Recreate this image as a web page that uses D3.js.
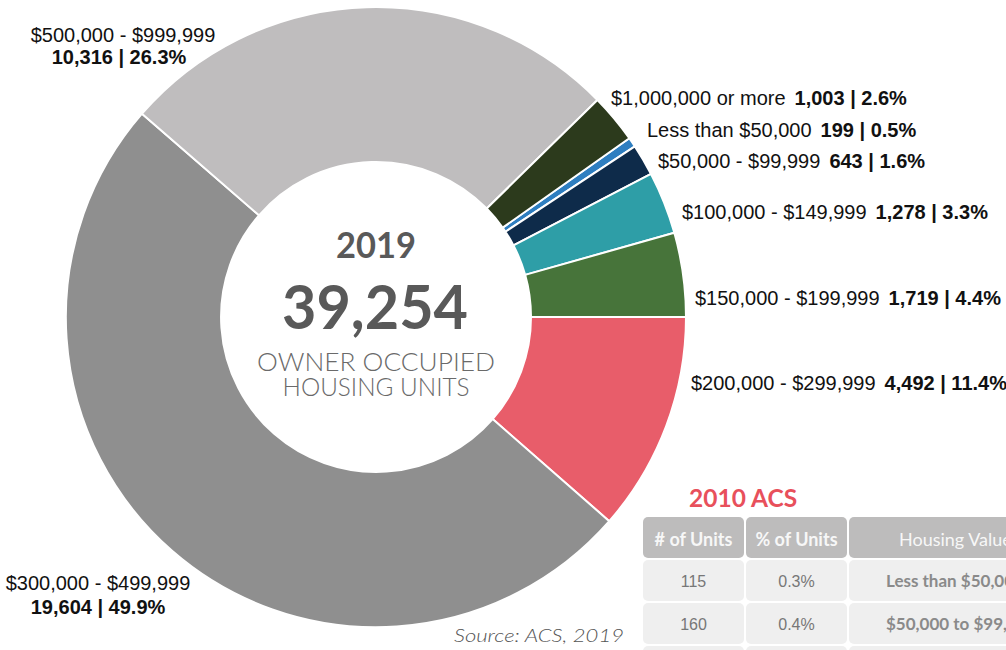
<!DOCTYPE html>
<html>
<head>
<meta charset="utf-8">
<script src="https://cdn.jsdelivr.net/npm/d3@7"></script>
<style>
  html, body { margin: 0; padding: 0; background: #ffffff; }
  svg { display: block; }
</style>
</head>
<body>
<div id="chart"></div>
<script>
// ---------- Data ----------
const categories = [
  "Less than $50,000", "$50,000 - $99,999", "$100,000 - $149,999",
  "$150,000 - $199,999", "$200,000 - $299,999", "$300,000 - $499,999",
  "$500,000 - $999,999", "$1,000,000 or more"
];
const units  = [199, 643, 1278, 1719, 4492, 19604, 10316, 1003];
const shares = [0.5, 1.6, 3.3, 4.4, 11.4, 49.9, 26.3, 2.6];
const year = "2019";
const centerLines = ["OWNER OCCUPIED", "HOUSING UNITS"];
const sourceText = "Source: ACS, 2019";

// 2010 ACS table
const tableTitle = "2010 ACS";
const tableHeaders = ["# of Units", "% of Units", "Housing Value"];
const units2010  = [115, 160];
const shares2010 = ["0.3%", "0.4%"];
const values2010 = ["Less than $50,000", "$50,000 to $99,999"];

// ---------- Styles / layout ----------
const sliceColors = ["#2E7EC0", "#0E2B4A", "#2E9EA7", "#47743A",
                     "#E85D6A", "#8F8F8F", "#BFBDBE", "#2C3A1C"];

const W = 1006, H = 650;
const cx = 376, cy = 317, R = 310, r0 = 155;

// label anchor layout (per category index)
const labelLayout = {
  0: {x: 647, y: 137, mode: "inline"},
  1: {x: 658, y: 168, mode: "inline"},
  2: {x: 682, y: 219, mode: "inline"},
  3: {x: 695, y: 305, mode: "inline"},
  4: {x: 691, y: 390, mode: "inline"},
  5: {x: 98,  y: 590, x2: 98, y2: 614, mode: "stack"},
  6: {x: 123, y: 42,  x2: 119, y2: 64, mode: "stack"},
  7: {x: 611, y: 105, mode: "inline"}
};

const data = categories.map((c, i) => ({cat: c, units: units[i], share: shares[i], i}));
const total = d3.sum(units);
const fmt = d3.format(",");

const svg = d3.select("#chart").append("svg")
  .attr("width", W).attr("height", H)
  .attr("viewBox", `0 0 ${W} ${H}`);

const color = d3.scaleOrdinal().domain(categories).range(sliceColors);

// start so that the $200k slice begins at 3 o'clock
const before = d3.sum(units.slice(0, 4));
const start = Math.PI / 2 - 2 * Math.PI * before / total;

const pie = d3.pie().sort(null).value(d => d.units)
  .startAngle(start).endAngle(start + 2 * Math.PI);
const arc = d3.arc().innerRadius(r0).outerRadius(R);

const g = svg.append("g").attr("transform", `translate(${cx},${cy})`);
g.selectAll("path.slice")
  .data(pie(data))
  .join("path")
  .attr("class", "slice")
  .attr("d", arc)
  .attr("fill", d => color(d.data.cat))
  .attr("stroke", "#ffffff")
  .attr("stroke-width", 2)
  .attr("stroke-linejoin", "round");

// ---------- Slice labels ----------
const labelFont = "'Liberation Sans', Arial, Helvetica, sans-serif";
const lg = svg.append("g").attr("font-family", labelFont).attr("font-size", 20).attr("fill", "#111");
data.forEach(d => {
  const L = labelLayout[d.i];
  const valueStr = `${fmt(d.units)} | ${d.share}%`;
  if (L.mode === "inline") {
    const t = lg.append("text").attr("x", L.x).attr("y", L.y);
    t.append("tspan").text(d.cat);
    t.append("tspan").attr("font-weight", "bold").attr("dx", 9).text(valueStr);
  } else {
    lg.append("text").attr("x", L.x).attr("y", L.y).attr("text-anchor", "middle").text(d.cat);
    lg.append("text").attr("x", L.x2).attr("y", L.y2).attr("text-anchor", "middle")
      .attr("font-weight", "bold").text(valueStr);
  }
});

// ---------- Centre text ----------
const centerFont = "Lato, 'Open Sans', 'DejaVu Sans', sans-serif";
const cg = svg.append("g").attr("font-family", centerFont).attr("text-anchor", "middle");
cg.append("text").attr("x", cx).attr("y", 258)
  .attr("font-size", 37).attr("font-weight", "bold").attr("fill", "#595959")
  .attr("textLength", 80).attr("lengthAdjust", "spacingAndGlyphs")
  .text(year);
cg.append("text").attr("x", 375).attr("y", 329)
  .attr("font-size", 62).attr("font-weight", "bold").attr("fill", "#595959")
  .attr("textLength", 186).attr("lengthAdjust", "spacingAndGlyphs")
  .text(fmt(total));
const sub = cg.append("text")
  .attr("font-size", 25).attr("font-weight", 300).attr("fill", "#6a6a6a");
sub.append("tspan").attr("x", cx).attr("y", 371)
  .attr("textLength", 238).attr("lengthAdjust", "spacingAndGlyphs")
  .text(centerLines[0]);
sub.append("tspan").attr("x", cx).attr("y", 396)
  .attr("textLength", 187).attr("lengthAdjust", "spacingAndGlyphs")
  .text(centerLines[1]);

// ---------- Source ----------
svg.append("text").attr("x", 454).attr("y", 642)
  .attr("font-family", centerFont).attr("font-style", "italic").attr("font-weight", 300)
  .attr("font-size", 17).attr("fill", "#555")
  .attr("textLength", 170).attr("lengthAdjust", "spacingAndGlyphs")
  .text(sourceText);

// ---------- 2010 ACS table ----------
const tg = svg.append("g").attr("font-family", "Lato, 'Open Sans', sans-serif");
tg.append("text").attr("x", 689).attr("y", 507)
  .attr("font-size", 24.5).attr("font-weight", "bold").attr("fill", "#E8505B")
  .text(tableTitle);

const colX = [643, 746, 849];
const colW = [101, 101, 206];
const headerY = 517, headerH = 41;
const rowY = [560, 603, 646];
const rowH = 41;

tableHeaders.forEach((h, j) => {
  tg.append("rect").attr("x", colX[j]).attr("y", headerY)
    .attr("width", colW[j]).attr("height", headerH).attr("rx", 5)
    .attr("fill", "#BDBCBC");
});
tableHeaders.forEach((h, j) => {
  const t = tg.append("text").attr("y", 546).attr("font-size", 18)
    .attr("fill", "#F7F7F7").attr("font-weight", j < 2 ? "bold" : "normal").text(h);
  if (j < 2) t.attr("x", colX[j] + colW[j] / 2).attr("text-anchor", "middle");
  else t.attr("x", 899);
});

rowY.forEach((y, k) => {
  colX.forEach((x, j) => {
    tg.append("rect").attr("x", x).attr("y", y)
      .attr("width", colW[j]).attr("height", rowH).attr("rx", 5)
      .attr("fill", "#EFEFEF");
  });
});

units2010.forEach((u, k) => {
  const by = rowY[k] + 27;
  tg.append("text").attr("x", colX[0] + colW[0] / 2).attr("y", by)
    .attr("text-anchor", "middle").attr("font-family", labelFont)
    .attr("font-size", 16).attr("fill", "#777").text(u);
  tg.append("text").attr("x", colX[1] + colW[1] / 2).attr("y", by)
    .attr("text-anchor", "middle").attr("font-family", labelFont)
    .attr("font-size", 16).attr("fill", "#777").text(shares2010[k]);
  tg.append("text").attr("x", 886).attr("y", by)
    .attr("font-size", 17).attr("font-weight", "bold").attr("fill", "#8a8a8a")
    .text(values2010[k]);
});
</script>
</body>
</html>
